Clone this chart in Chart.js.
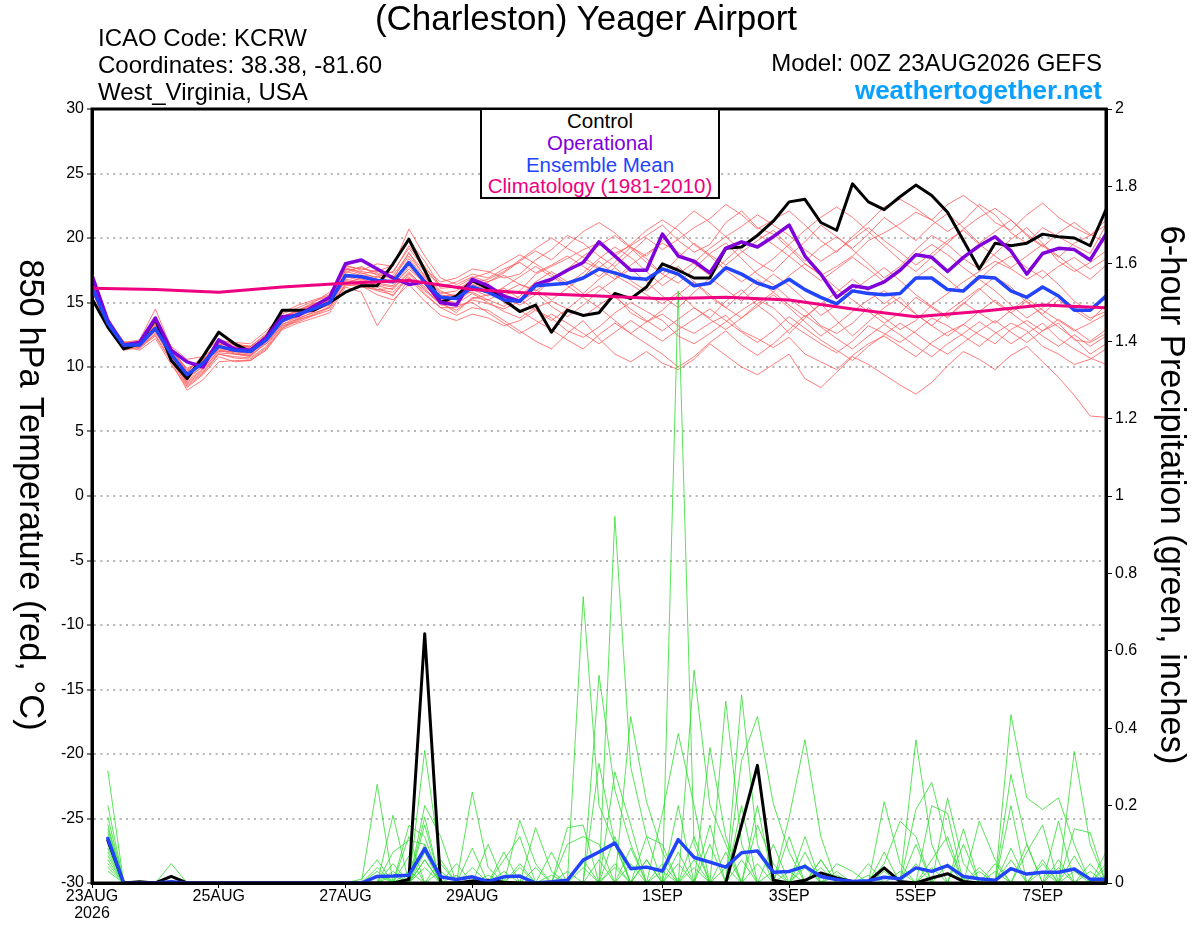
<!DOCTYPE html>
<html>
<head>
<meta charset="utf-8">
<title>(Charleston) Yeager Airport</title>
<script src="https://cdn.jsdelivr.net/npm/chart.js@4.4.0/dist/chart.umd.min.js"></script>
<style>
  body { margin: 0; background: #fff; }
  #wrap { position: relative; width: 1200px; height: 927px; overflow: hidden; font-family: 'Liberation Sans', Arial, sans-serif; color: #000; }
  #grafico { position: absolute; left: 0; top: 0; }
  .txt { position: absolute; white-space: nowrap; }
  #titulo { left: 0; width: 1172px; top: 0px; font-size: 35px; line-height: 35px; text-align: center; }
  .info { left: 98px; font-size: 24px; line-height: 24px; }
  .infoDer { right: 98px; font-size: 24px; line-height: 24px; text-align: right; }
  #web { right: 98px; top: 77px; font-size: 26px; line-height: 26px; font-weight: bold; color: #0aa0ff; }
  #leyenda { position: absolute; left: 480px; top: 108px; width: 236px; height: 87px; border: 2px solid #000; background: #fff; text-align: center; font-size: 20.5px; line-height: 21.8px; }
  .ejeTitulo { position: absolute; width: 640px; height: 40px; line-height: 40px; font-size: 34.5px; text-align: center; transform: rotate(90deg); }
</style>
</head>
<body>
<div id="wrap">
  <canvas id="grafico" width="1200" height="927"></canvas>
  <div id="titulo" class="txt">(Charleston) Yeager Airport</div>
  <div class="txt info" style="top:26px">ICAO Code: KCRW</div>
  <div class="txt info" style="top:53px">Coordinates: 38.38, -81.60</div>
  <div class="txt info" style="top:80px">West_Virginia, USA</div>
  <div class="txt infoDer" style="top:51px">Model: 00Z 23AUG2026 GEFS</div>
  <div id="web" class="txt">weathertogether.net</div>
  <div id="leyenda">
    <div style="color:#000">Control</div>
    <div style="color:#8000dc">Operational</div>
    <div style="color:#2244ff">Ensemble Mean</div>
    <div style="color:#ee0080">Climatology (1981-2010)</div>
  </div>
  <div class="ejeTitulo" style="left:-288px; top:475px">850 hPa Temperature (red, °C)</div>
  <div class="ejeTitulo" style="left:853px; top:475px">6-hour Precipitation (green, inches)</div>
</div>

<script>
// Horas de pronostico (cada 6 h desde 00Z 23AUG2026)
const hours = [
  0, 6, 12, 18, 24, 30, 36, 42, 48, 54,
  60, 66, 72, 78, 84, 90, 96, 102, 108, 114,
  120, 126, 132, 138, 144, 150, 156, 162, 168, 174,
  180, 186, 192, 198, 204, 210, 216, 222, 228, 234,
  240, 246, 252, 258, 264, 270, 276, 282, 288, 294,
  300, 306, 312, 318, 324, 330, 336, 342, 348, 354,
  360, 366, 372, 378, 384
];
const precipHours = hours.slice(1);
const climHours = [0, 24, 48, 72, 96, 120, 144, 168, 192, 216, 240, 264, 288, 312, 336, 360, 384];

// Etiquetas del eje x
const tickHours = [0, 48, 96, 144, 216, 264, 312, 360];
const tickLabels = [['23AUG', '2026'], '25AUG', '27AUG', '29AUG', '1SEP', '3SEP', '5SEP', '7SEP'];

// Temperatura 850 hPa (C)
const control = [
  15.3, 13.1, 11.4, 11.8, 13.7, 10.5, 9.1, 10.8, 12.7, 11.8,
  11.2, 12.3, 14.4, 14.4, 14.4, 15.0, 15.8, 16.3, 16.3, 18.0,
  19.9, 17.5, 15.0, 15.5, 16.7, 16.1, 15.2, 14.3, 14.8, 12.7,
  14.4, 14.0, 14.2, 15.7, 15.3, 16.2, 18.0, 17.5, 16.9, 16.9,
  19.2, 19.3, 20.2, 21.3, 22.8, 23.0, 21.2, 20.6, 24.2, 22.8,
  22.2, 23.2, 24.1, 23.3, 22.0, 19.8, 17.6, 19.6, 19.4, 19.6,
  20.3, 20.1, 20.0, 19.4, 22.2
];
const operational = [
  17.1, 13.6, 11.7, 11.9, 13.8, 11.3, 10.4, 10.0, 12.1, 11.4,
  11.3, 12.3, 13.9, 14.0, 14.7, 15.4, 18.0, 18.3, 17.6, 16.9,
  16.4, 16.6, 15.0, 14.8, 16.8, 16.3, 15.5, 15.1, 16.4, 16.8,
  17.5, 18.1, 19.7, 18.6, 17.5, 17.5, 20.3, 18.6, 18.2, 17.3,
  19.2, 19.7, 19.3, 20.1, 21.0, 18.6, 17.2, 15.4, 16.3, 16.1,
  16.6, 17.5, 18.7, 18.5, 17.4, 18.5, 19.4, 20.1, 19.0, 17.2,
  18.8, 19.2, 19.1, 18.3, 20.3
];
const ensMean = [
  16.2, 13.4, 11.7, 11.7, 13.0, 11.0, 9.4, 10.3, 11.6, 11.3,
  11.2, 12.1, 13.6, 14.1, 14.5, 15.0, 17.1, 17.0, 16.7, 16.6,
  18.1, 16.6, 15.4, 15.3, 16.2, 15.8, 15.2, 15.1, 16.3, 16.4,
  16.5, 16.9, 17.6, 17.3, 16.9, 16.8, 17.6, 17.2, 16.3, 16.5,
  17.7, 17.2, 16.5, 16.1, 16.8, 16.0, 15.4, 14.9, 15.9, 15.7,
  15.6, 15.7, 16.9, 16.9, 16.0, 15.9, 17.0, 16.9, 15.9, 15.4,
  16.2, 15.5, 14.4, 14.4, 15.5
];
const climatology = [16.1, 16.0, 15.8, 16.2, 16.5, 16.7, 16.0, 15.7, 15.5, 15.3, 15.4, 15.2, 14.5, 13.9, 14.3, 14.8, 14.6];

// Miembros del ensamble (rojo)
const m01 = [
  16.0, 13.2, 11.5, 11.9, 13.4, 10.8, 9.0, 10.1, 11.8, 11.0,
  10.9, 12.4, 13.9, 14.3, 14.8, 15.3, 17.6, 17.4, 17.2, 16.8,
  18.9, 17.0, 15.8, 15.5, 16.6, 16.2, 15.6, 15.9, 17.2, 17.8,
  18.4, 19.1, 19.6, 18.8, 19.4, 20.2, 21.0, 19.8, 18.9, 19.5,
  21.2, 22.1, 20.8, 20.3, 19.2, 18.0, 17.1, 17.8, 18.6, 19.8,
  20.4, 21.1, 22.0, 21.4, 20.5, 21.3, 22.6, 21.8, 20.4, 19.6,
  20.8, 20.1, 19.4, 18.8, 21.0
];
const m02 = [
  16.4, 13.6, 12.0, 11.4, 12.6, 11.3, 9.8, 10.6, 11.2, 11.6,
  11.5, 11.8, 13.1, 13.8, 14.2, 14.6, 16.8, 16.6, 16.0, 16.1,
  17.4, 16.1, 14.8, 14.9, 15.7, 15.0, 14.3, 13.8, 14.6, 15.1,
  14.5, 13.9, 14.8, 15.6, 14.2, 13.5, 14.1, 13.2, 12.6, 13.4,
  14.0, 12.8, 12.2, 11.5, 12.3, 11.0, 10.4, 9.8, 10.9, 11.8,
  12.4, 11.6, 10.8, 11.9, 12.7, 13.3, 12.5, 11.8, 12.9, 13.6,
  12.8, 13.4, 12.1, 11.9, 12.6
];
const m03 = [
  16.1, 13.3, 11.8, 11.6, 12.9, 10.6, 8.6, 9.6, 11.0, 10.8,
  10.7, 11.6, 13.2, 13.5, 14.0, 14.6, 16.5, 16.9, 16.2, 15.5,
  17.2, 16.0, 15.0, 14.2, 15.4, 15.2, 15.8, 16.4, 16.0, 15.2,
  16.1, 17.0, 18.2, 17.1, 16.4, 15.6, 14.9, 15.8, 14.6, 13.8,
  15.1, 16.0, 14.8, 13.9, 12.6, 13.8, 14.9, 13.6, 12.4, 13.5,
  14.6, 15.4, 14.1, 13.2, 14.3, 15.2, 16.1, 15.0, 14.2, 15.1,
  14.0, 13.1, 12.2, 11.0, 11.8
];
const m04 = [
  16.3, 13.5, 11.6, 11.8, 13.6, 11.4, 9.6, 10.9, 12.2, 11.7,
  11.6, 12.6, 14.2, 14.8, 15.2, 15.6, 17.8, 17.6, 17.4, 17.9,
  19.8, 18.2, 16.2, 16.6, 17.2, 16.9, 17.6, 18.1, 17.3, 17.9,
  18.6, 17.8, 17.0, 18.1, 19.3, 18.4, 17.2, 16.5, 17.6, 18.8,
  19.6, 18.4, 17.2, 16.4, 15.3, 14.4, 13.2, 12.6, 13.4, 14.6,
  13.8, 12.9, 13.6, 14.8, 15.7, 16.6, 17.4, 18.2, 17.6, 16.8,
  17.5, 16.4, 15.1, 14.3, 15.6
];
const m05 = [
  16.0, 13.1, 11.4, 11.5, 12.4, 10.4, 8.2, 9.0, 10.4, 10.5,
  10.5, 11.3, 12.9, 13.4, 13.8, 14.2, 16.2, 15.8, 13.2, 15.0,
  16.8, 15.6, 14.6, 14.0, 14.6, 14.4, 13.6, 12.8, 12.0, 11.4,
  12.6, 13.6, 12.2, 11.0, 10.4, 11.2, 10.3, 9.8, 10.6, 11.8,
  10.9, 10.0, 9.4, 10.2, 11.0, 9.1, 8.4, 9.6, 10.8, 10.2,
  9.4, 8.6, 7.9, 8.8, 10.1, 11.2, 10.6, 9.8, 10.9, 11.6,
  10.4, 9.2, 7.8, 6.2, 6.1
];
const m06 = [
  16.2, 13.4, 11.9, 12.0, 13.2, 11.1, 9.5, 10.5, 11.9, 11.6,
  11.6, 12.5, 13.9, 14.4, 15.0, 15.8, 17.4, 17.1, 17.0, 17.4,
  19.2, 17.6, 16.6, 16.9, 17.6, 17.4, 16.9, 17.2, 18.3, 19.1,
  20.2, 19.6, 18.6, 17.8, 18.9, 20.0, 19.1, 19.9, 20.8, 21.5,
  22.6, 21.8, 20.7, 21.4, 22.1, 21.0, 19.8, 18.9, 20.1, 21.2,
  22.4, 23.0, 22.3, 21.4, 22.6, 23.3, 22.4, 21.2, 20.6, 21.8,
  22.7, 21.6, 20.8, 20.2, 21.4
];
const m07 = [
  16.1, 13.3, 11.6, 11.3, 12.2, 10.2, 8.4, 9.4, 10.8, 10.4,
  10.5, 11.4, 13.0, 13.7, 14.3, 15.0, 16.6, 16.3, 15.6, 15.2,
  16.4, 15.1, 14.0, 13.6, 14.1, 13.8, 13.2, 13.6, 14.4, 13.8,
  12.8, 12.3, 13.1, 14.2, 15.0, 14.3, 13.6, 12.4, 11.8, 12.6,
  13.5, 14.4, 15.2, 14.6, 13.4, 12.6, 11.8, 11.1, 12.0, 13.2,
  12.6, 11.9, 12.8, 13.8, 13.2, 12.4, 11.6, 12.6, 13.4, 12.8,
  11.6, 11.0, 10.2, 10.6, 11.4
];
const m08 = [
  16.3, 13.6, 11.8, 11.9, 13.5, 11.6, 10.6, 10.8, 11.7, 11.8,
  11.6, 12.2, 13.4, 14.2, 14.6, 15.1, 17.3, 17.8, 17.1, 16.5,
  18.4, 16.9, 15.7, 15.9, 16.8, 16.1, 15.4, 14.8, 15.6, 16.8,
  17.6, 18.6, 19.4, 20.2, 19.2, 18.1, 17.2, 18.5, 19.6, 18.7,
  17.9, 18.9, 19.8, 20.6, 19.4, 18.2, 19.3, 20.1, 19.1, 18.0,
  16.9, 17.8, 19.1, 20.2, 19.5, 18.4, 17.6, 18.8, 19.9, 20.8,
  19.6, 18.2, 17.4, 18.1, 19.0
];
const m09 = [
  16.2, 13.2, 11.7, 11.6, 12.8, 11.2, 9.2, 10.0, 11.4, 11.1,
  10.9, 12.0, 13.5, 13.9, 14.4, 14.8, 17.0, 16.7, 16.4, 16.2,
  17.8, 16.4, 15.2, 15.0, 16.0, 15.5, 16.2, 17.0, 17.8, 17.0,
  16.3, 15.4, 14.6, 13.6, 12.6, 13.5, 14.4, 15.6, 16.6, 15.4,
  14.6, 13.8, 14.9, 15.8, 17.1, 18.0, 17.2, 16.1, 15.2, 14.3,
  13.4, 14.2, 15.4, 14.6, 13.8, 14.9, 16.0, 17.0, 16.2, 15.0,
  14.1, 15.2, 14.4, 13.6, 14.8
];
const m10 = [
  16.5, 13.7, 11.9, 12.1, 14.5, 11.5, 9.7, 10.6, 12.0, 11.9,
  11.8, 12.8, 14.1, 14.6, 15.1, 15.5, 17.9, 17.5, 18.0, 17.8,
  20.7, 18.6, 16.9, 16.4, 17.0, 16.6, 17.3, 18.2, 19.0, 18.3,
  19.4, 20.5, 21.2, 20.4, 19.3, 18.6, 19.8, 21.0, 22.1, 21.2,
  20.1, 19.0, 18.1, 17.4, 18.6, 19.7, 21.0, 20.1, 19.2, 20.3,
  21.6, 20.7, 19.8, 21.0, 21.9, 20.8, 19.6, 20.5, 21.4, 20.3,
  19.4, 18.5, 19.6, 20.2, 21.0
];
const m11 = [
  15.9, 13.0, 11.3, 11.5, 12.7, 10.7, 8.8, 9.8, 11.3, 11.0,
  10.8, 11.9, 13.3, 13.7, 14.0, 14.4, 16.4, 16.2, 16.0, 15.8,
  17.0, 15.7, 14.6, 14.6, 15.2, 14.9, 14.5, 15.1, 15.8, 14.7,
  13.9, 14.8, 15.9, 16.8, 17.6, 16.6, 15.5, 14.6, 15.8, 16.9,
  16.0, 15.1, 16.2, 17.2, 16.3, 15.2, 14.0, 14.8, 15.9, 16.8,
  17.7, 16.7, 15.6, 14.7, 13.9, 15.0, 14.2, 13.4, 14.4, 15.3,
  14.4, 13.6, 12.8, 13.4, 14.1
];
const m12 = [
  16.0, 13.3, 11.7, 11.8, 13.1, 10.9, 9.3, 10.2, 11.5, 11.4,
  11.3, 12.2, 13.7, 14.0, 14.6, 15.2, 17.2, 16.8, 16.5, 16.3,
  17.6, 16.5, 15.6, 15.3, 16.4, 16.0, 15.0, 14.4, 13.6, 12.9,
  12.1, 11.4, 12.5, 13.4, 12.6, 11.8, 11.0, 10.0, 10.8, 11.9,
  12.8, 11.7, 10.9, 11.8, 12.9, 14.0, 13.1, 12.2, 11.4, 12.4,
  13.3, 12.5, 11.6, 10.8, 11.8, 12.6, 13.5, 12.7, 11.8, 12.6,
  13.4, 12.2, 11.4, 10.7, 10.2
];
const m13 = [
  16.3, 13.5, 11.8, 11.7, 13.3, 11.2, 9.6, 10.4, 11.8, 11.5,
  11.4, 12.3, 13.8, 14.3, 14.9, 15.4, 17.7, 17.3, 16.9, 17.1,
  18.8, 17.4, 16.4, 16.1, 16.5, 16.8, 17.4, 18.3, 19.2, 20.0,
  19.2, 18.5, 17.7, 18.6, 19.5, 20.6, 21.4, 20.6, 19.5, 18.6,
  17.5, 16.6, 17.5, 18.4, 19.5, 20.6, 21.6, 22.4, 21.6, 20.5,
  19.4, 18.3, 17.4, 18.5, 19.6, 20.7, 21.6, 22.3, 21.4, 20.2,
  19.3, 20.4, 21.2, 20.3, 19.6
];
const m14 = [
  16.1, 13.4, 11.6, 11.6, 12.9, 10.9, 8.9, 9.9, 11.2, 11.2,
  11.1, 12.0, 13.5, 14.1, 14.3, 14.9, 16.9, 17.1, 16.8, 16.6,
  18.0, 16.8, 15.5, 15.6, 15.8, 15.2, 14.7, 15.5, 16.6, 17.4,
  16.6, 15.7, 16.8, 17.7, 16.7, 15.9, 16.9, 17.8, 16.6, 15.6,
  14.6, 15.7, 16.8, 15.8, 14.8, 13.9, 14.9, 15.8, 16.8, 15.9,
  14.9, 15.8, 16.9, 17.8, 16.8, 15.8, 16.8, 15.9, 14.8, 13.8,
  14.6, 15.6, 14.6, 13.8, 14.3
];
const m15 = [
  16.2, 13.5, 11.8, 11.6, 13.1, 11.0, 9.3, 10.3, 11.7, 11.2,
  11.0, 12.1, 13.6, 14.2, 14.7, 15.2, 17.5, 17.7, 17.3, 16.9,
  18.6, 17.1, 15.9, 15.4, 16.3, 16.6, 17.1, 16.4, 15.9, 16.7,
  17.4, 18.2, 17.6, 16.8, 17.9, 18.8, 19.6, 18.9, 18.0, 17.1,
  18.3, 19.4, 20.3, 19.5, 18.6, 17.6, 16.7, 17.6, 18.5, 17.6,
  16.6, 17.5, 18.6, 19.5, 18.7, 17.7, 16.8, 17.9, 18.6, 17.7,
  16.9, 17.8, 18.5, 17.6, 18.4
];
const m16 = [
  16.0, 13.2, 11.6, 11.7, 12.8, 10.8, 8.7, 9.7, 11.1, 11.0,
  10.9, 11.8, 13.3, 13.9, 14.5, 15.1, 16.7, 16.5, 16.3, 16.0,
  17.3, 16.2, 15.3, 14.8, 15.0, 14.2, 13.4, 12.6, 13.3, 14.1,
  13.4, 12.6, 11.8, 12.7, 13.6, 12.8, 12.0, 12.9, 13.7, 14.5,
  13.6, 12.7, 11.9, 12.8, 13.9, 13.0, 12.1, 11.3, 10.5, 11.6,
  12.5, 13.4, 12.6, 11.7, 11.0, 11.9, 12.8, 13.6, 12.7, 11.9,
  12.8, 13.7, 12.9, 12.0, 12.9
];
const m17 = [
  16.4, 13.6, 11.9, 11.8, 13.4, 11.3, 9.9, 10.5, 11.9, 11.5,
  11.4, 12.4, 13.9, 14.4, 14.9, 15.3, 17.6, 17.2, 17.5, 17.3,
  19.4, 17.8, 16.1, 16.2, 16.9, 17.3, 18.0, 18.7, 18.0, 17.2,
  16.4, 17.3, 18.4, 19.3, 18.5, 17.4, 16.3, 17.2, 18.1, 19.2,
  20.1, 20.9, 21.8, 21.0, 20.2, 19.1, 18.2, 19.0, 19.9, 20.8,
  19.8, 18.9, 17.9, 18.8, 19.8, 20.6, 19.5, 18.6, 17.7, 18.6,
  19.5, 18.6, 17.6, 16.8, 17.9
];
const m18 = [
  15.9, 13.1, 11.5, 11.6, 12.5, 10.5, 8.5, 9.5, 11.0, 10.7,
  10.6, 11.5, 13.0, 13.6, 14.1, 14.7, 16.3, 16.4, 15.9, 15.6,
  16.9, 15.9, 14.9, 14.4, 15.3, 15.6, 16.1, 15.3, 14.4, 13.6,
  14.5, 15.5, 16.3, 15.4, 14.5, 13.6, 12.8, 13.7, 14.6, 13.7,
  12.9, 13.8, 14.7, 15.6, 14.6, 13.5, 12.4, 13.3, 14.3, 15.2,
  15.9, 15.0, 14.1, 13.2, 12.4, 13.3, 14.3, 15.2, 14.2, 13.3,
  12.4, 11.6, 12.5, 11.6, 12.4
];
const redMembers = [m01, m02, m03, m04, m05, m06, m07, m08, m09, m10, m11, m12, m13, m14, m15, m16, m17, m18];

// Precipitacion 6 h (pulgadas), desde la hora 6
const pControl = [
  .11, 0, .003, 0, .017, 0, 0, 0,
  0, 0, 0, 0, 0, 0, 0, 0,
  0, 0, 0, .009, .644, 0, 0, .005,
  .007, .002, 0, 0, 0, 0, 0, 0,
  0, 0, 0, 0, 0, 0, 0, 0,
  .15, .304, .007, 0, .007, .026, .013, .004,
  .004, .039, .004, 0, .013, .024, .004, 0,
  0, 0, 0, 0, 0, 0, 0, 0
];
const pMean = [
  .115, 0, 0, 0, .003, 0, 0, 0,
  0, 0, 0, 0, 0, 0, 0, 0,
  0, .017, .018, .02, .089, .016, .009, .016,
  .004, .016, .018, 0, .003, .007, .059, .08,
  .103, .037, .041, .031, .112, .066, .054, .041,
  .078, .083, .028, .03, .043, .017, .009, .004,
  .006, .015, .011, .039, .03, .045, .017, .011,
  .007, .037, .023, .028, .028, .036, .01, .01
];
const g01 = [
  .29, 0, 0, 0, 0, 0, 0, 0,
  0, 0, 0, 0, 0, 0, 0, 0,
  0, .255, 0, 0, .08, 0, 0, 0,
  0, 0, 0, 0, 0, 0, 0, 0,
  .947, .3, .12, 0, 0, 0, 0, 0,
  0, 0, 0, 0, .05, 0, 0, 0,
  0, 0, 0, .37, .1, 0, 0, 0,
  0, .2, 0, 0, 0, 0, 0, 0
];
const g02 = [
  .2, 0, 0, 0, 0, 0, 0, 0,
  0, 0, 0, 0, 0, 0, 0, 0,
  0, 0, 0, 0, .343, .05, 0, 0,
  0, 0, 0, 0, 0, 0, 0, 0,
  0, 0, 0, 0, 1.53, .1, 0, 0,
  .2, 0, 0, 0, 0, .06, 0, 0,
  0, 0, 0, 0, 0, 0, 0, 0,
  0, .435, .22, .19, .22, .1, 0, 0
];
const g03 = [
  .17, 0, 0, 0, 0, 0, 0, 0,
  0, 0, 0, 0, 0, 0, 0, 0,
  0, 0, 0, .149, .12, 0, 0, 0,
  0, 0, 0, 0, 0, 0, .74, .2,
  .1, 0, 0, 0, 0, 0, 0, 0,
  0, .15, .05, 0, 0, 0, 0, 0,
  0, 0, 0, 0, 0, .22, .05, 0,
  0, 0, 0, 0, 0, 0, 0, 0
];
const g04 = [
  .15, 0, 0, 0, 0, 0, 0, 0,
  0, 0, 0, 0, 0, 0, 0, 0,
  0, 0, .175, 0, .06, 0, 0, 0,
  0, 0, 0, 0, 0, 0, 0, .537,
  .24, .1, 0, 0, 0, 0, 0, 0,
  .486, .1, 0, 0, 0, 0, 0, 0,
  0, .21, .05, 0, 0, 0, 0, 0,
  0, 0, 0, 0, 0, .34, .1, 0
];
const g05 = [
  .13, 0, 0, 0, 0, 0, 0, 0,
  0, 0, 0, 0, 0, 0, 0, 0,
  0, 0, 0, 0, 0, 0, 0, .235,
  .04, 0, 0, 0, 0, 0, 0, .309,
  .1, 0, 0, 0, 0, .55, .2, .1,
  0, 0, 0, 0, 0, 0, 0, 0,
  0, 0, 0, .19, .26, .1, 0, 0,
  0, 0, 0, 0, .16, 0, 0, 0
];
const g06 = [
  .12, 0, 0, 0, .05, 0, 0, 0,
  0, 0, 0, 0, 0, 0, 0, 0,
  0, 0, 0, 0, .2, .121, 0, 0,
  0, 0, .162, .05, 0, 0, 0, 0,
  0, .43, .21, .08, 0, 0, 0, 0,
  0, 0, 0, .17, .37, .12, 0, 0,
  0, 0, 0, 0, 0, 0, 0, .16,
  .06, 0, 0, 0, 0, 0, 0, 0
];
const g07 = [
  .1, 0, 0, 0, 0, 0, 0, 0,
  0, 0, 0, 0, 0, 0, 0, 0,
  0, .03, 0, 0, .15, 0, 0, 0,
  0, 0, 0, .143, .03, 0, 0, 0,
  0, 0, 0, .18, .386, .2, 0, .47,
  .1, 0, 0, 0, 0, 0, 0, 0,
  0, 0, 0, 0, .2, .18, 0, 0,
  0, 0, 0, 0, 0, 0, 0, .08
];
const g08 = [
  .08, 0, 0, 0, 0, 0, 0, 0,
  0, 0, 0, 0, 0, 0, 0, 0,
  0, 0, .08, .11, .1, 0, 0, 0,
  0, 0, 0, 0, 0, .143, .15, 0,
  .287, .15, 0, 0, 0, 0, .35, .12,
  0, 0, 0, 0, 0, 0, 0, 0,
  0, .05, .16, .12, 0, 0, 0, 0,
  0, 0, .08, .15, 0, 0, 0, 0
];
const g09 = [
  .06, 0, 0, 0, 0, 0, 0, 0,
  0, 0, 0, 0, 0, 0, 0, 0,
  .01, .06, 0, .07, 0, 0, 0, .09,
  0, .06, .12, 0, 0, .1, .12, .1,
  0, 0, .12, .1, 0, 0, 0, 0,
  .317, .43, .205, .08, 0, 0, 0, 0,
  0, 0, 0, 0, 0, 0, 0, 0,
  0, .28, .1, 0, 0, .14, .13, 0
];
const g10 = [
  .05, 0, 0, 0, 0, 0, 0, 0,
  0, 0, 0, 0, 0, 0, 0, 0,
  0, 0, 0, 0, .06, 0, .05, 0,
  0, 0, 0, 0, .02, 0, 0, 0,
  .04, 0, 0, 0, .08, 0, .15, 0,
  0, 0, .1, 0, .12, 0, .05, .03,
  0, 0, 0, 0, 0, 0, .1, 0,
  0, 0, 0, .05, 0, 0, 0, .04
];
const g11 = [
  .04, 0, 0, 0, 0, 0, 0, 0,
  0, 0, 0, 0, 0, 0, 0, 0,
  0, 0, .02, 0, 0, .06, 0, 0,
  .02, 0, 0, 0, 0, 0, 0, .06,
  0, .05, 0, 0, 0, .06, 0, 0,
  0, .05, 0, 0, 0, .04, 0, 0,
  .02, 0, 0, .05, 0, 0, 0, 0,
  .03, 0, 0, 0, .04, 0, 0, 0
];
const g12 = [
  .03, 0, 0, 0, 0, 0, 0, 0,
  0, 0, 0, 0, 0, 0, 0, 0,
  0, .02, 0, 0, .04, 0, 0, 0,
  0, .03, 0, 0, 0, 0, .04, 0,
  0, 0, 0, .03, 0, 0, 0, .04,
  0, 0, 0, .03, 0, 0, 0, 0,
  0, .03, 0, 0, .04, 0, 0, .03,
  0, 0, 0, 0, 0, .03, 0, 0
];
const g13 = [
  .09, 0, 0, 0, 0, 0, 0, 0,
  0, 0, 0, 0, 0, 0, 0, 0,
  0, 0, 0, .03, 0, 0, 0, .04,
  0, 0, 0, 0, 0, .03, 0, 0,
  .05, 0, 0, 0, .05, 0, 0, 0,
  .06, 0, 0, 0, .04, 0, 0, 0,
  0, 0, 0, 0, 0, .05, 0, 0,
  0, 0, 0, .06, 0, 0, .03, 0
];
const g14 = [
  .11, 0, 0, 0, 0, 0, 0, 0,
  0, 0, 0, 0, 0, 0, 0, 0,
  0, 0, .03, 0, .1, 0, 0, 0,
  0, 0, .04, 0, 0, 0, 0, 0,
  0, 0, .06, 0, 0, .04, 0, 0,
  0, 0, .03, 0, 0, 0, .02, 0,
  0, 0, .03, 0, 0, 0, 0, 0,
  0, .06, 0, 0, 0, 0, 0, .02
];
const g15 = [
  .07, 0, 0, 0, 0, 0, 0, 0,
  0, 0, 0, 0, 0, 0, 0, 0,
  0, .04, 0, .12, 0, .03, 0, 0,
  .1, 0, .05, 0, .08, 0, 0, 0,
  .12, 0, .06, 0, .2, 0, .1, 0,
  0, 0, 0, .12, 0, .06, 0, 0,
  .05, 0, 0, .1, 0, 0, .14, 0,
  .05, 0, .1, 0, .06, 0, .05, 0
];
const g16 = [
  .14, 0, 0, 0, 0, 0, 0, 0,
  0, 0, 0, 0, 0, 0, 0, 0,
  0, 0, .05, 0, .17, 0, .02, 0,
  0, .08, 0, .04, 0, 0, .06, 0,
  0, .09, 0, .05, 0, .12, 0, .08,
  0, .2, 0, 0, .08, 0, .03, 0,
  0, .08, 0, 0, .06, .12, 0, .04,
  0, .09, 0, .03, 0, .07, 0, .05
];
const greenMembers = [g01, g02, g03, g04, g05, g06, g07, g08, g09, g10, g11, g12, g13, g14, g15, g16];

// {x, y} a partir de los arreglos
function pts(xs, ys) {
  return ys.map((y, i) => ({ x: xs[i], y: y }));
}

const datasets = [];
redMembers.forEach(m => datasets.push({ data: pts(hours, m), borderColor: '#ff5a5a', borderWidth: 0.8, yAxisID: 'y', order: 6 }));
greenMembers.forEach(g => datasets.push({ data: pts(precipHours, g), borderColor: '#2edc2e', borderWidth: 0.8, yAxisID: 'y2', order: 5 }));
datasets.push({ data: pts(precipHours, pControl), borderColor: '#000', borderWidth: 3, yAxisID: 'y2', order: 4 });
datasets.push({ data: pts(precipHours, pMean), borderColor: '#2244ff', borderWidth: 3.5, yAxisID: 'y2', order: 1 });
datasets.push({ data: pts(hours, control), borderColor: '#000', borderWidth: 3, yAxisID: 'y', order: 3 });
datasets.push({ data: pts(hours, operational), borderColor: '#8000dc', borderWidth: 3.5, yAxisID: 'y', order: 2 });
datasets.push({ data: pts(hours, ensMean), borderColor: '#2244ff', borderWidth: 3.5, yAxisID: 'y', order: 1 });
datasets.push({ data: pts(climHours, climatology), borderColor: '#ee0080', borderWidth: 3, yAxisID: 'y', order: 0 });

// Marco negro alrededor del area del grafico
const marco = {
  id: 'marco',
  afterDatasetsDraw(chart) {
    const { ctx, chartArea: a } = chart;
    ctx.save();
    ctx.strokeStyle = '#000';
    ctx.lineWidth = 3;
    ctx.strokeRect(a.left, a.top, a.right - a.left, a.bottom - a.top);
    ctx.restore();
  }
};

Chart.defaults.font.family = "'Liberation Sans', Arial, sans-serif";
Chart.defaults.color = '#000';

const ctx = document.getElementById('grafico').getContext('2d');
new Chart(ctx, {
  type: 'line',
  data: { datasets: datasets },
  options: {
    responsive: false,
    animation: false,
    events: [],
    layout: { padding: { top: 109, left: 0, right: 0, bottom: 0 } },
    elements: {
      point: { radius: 0 },
      line: { tension: 0, fill: false, borderCapStyle: 'round', borderJoinStyle: 'round' }
    },
    plugins: { legend: { display: false }, tooltip: { enabled: false }, title: { display: false } },
    scales: {
      x: {
        type: 'linear',
        min: 0, max: 384,
        afterFit: s => { s.height = 44; },
        afterBuildTicks: s => { s.ticks = tickHours.map(v => ({ value: v })); },
        ticks: {
          autoSkip: false, maxRotation: 0, padding: 0,
          font: { size: 16, lineHeight: 1.08 },
          callback: (v, i) => tickLabels[i]
        },
        grid: { drawOnChartArea: false, tickLength: 5, tickColor: '#000', tickWidth: 1 },
        border: { color: '#000', width: 3 }
      },
      y: {
        position: 'left',
        min: -30, max: 30,
        afterFit: s => { s.width = 92; },
        ticks: { stepSize: 5, padding: 3, font: { size: 16 } },
        grid: { color: '#b4b4b4', lineWidth: 2, tickColor: '#000', tickLength: 5, tickWidth: 1, tickBorderDash: [] },
        border: { color: '#000', width: 3, dash: [2, 4.4] }
      },
      y2: {
        position: 'right',
        min: 0, max: 2,
        afterFit: s => { s.width = 94; },
        ticks: { stepSize: 0.2, padding: 3, font: { size: 16 }, callback: v => String(Number(v.toFixed(1))) },
        grid: { drawOnChartArea: false, tickColor: '#000', tickLength: 6, tickWidth: 1 },
        border: { color: '#000', width: 3 }
      }
    }
  },
  plugins: [marco]
});
</script>
</body>
</html>
